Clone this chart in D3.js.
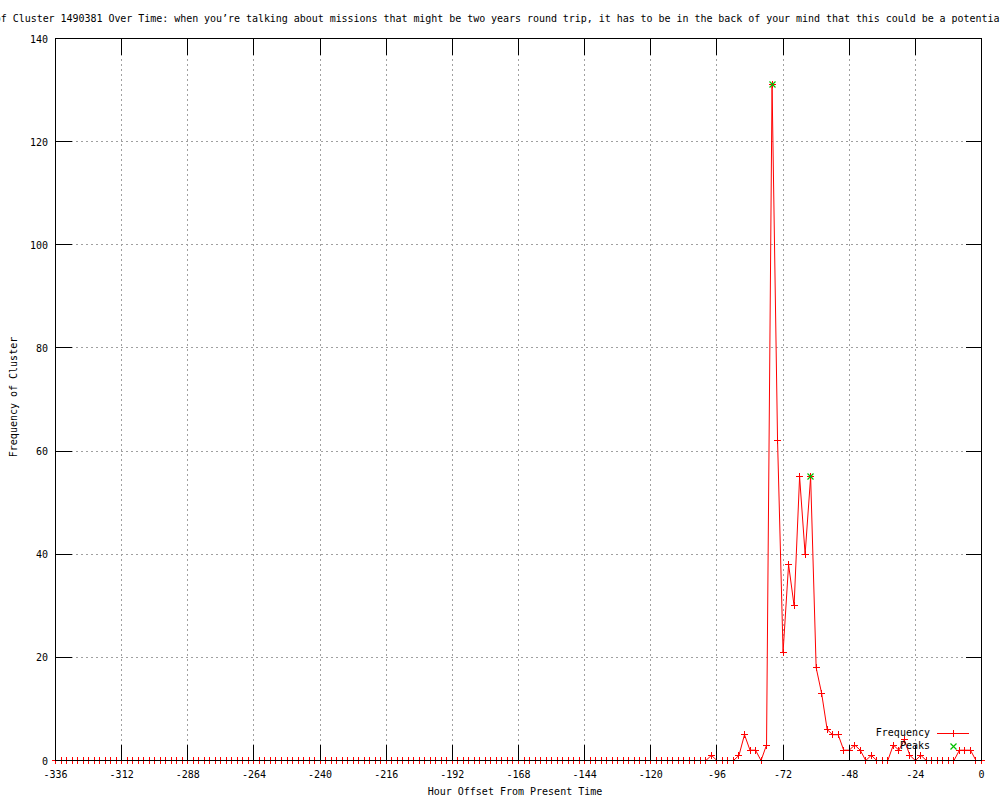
<!DOCTYPE html>
<html>
<head>
<meta charset="utf-8">
<script src="https://cdn.jsdelivr.net/npm/d3@7"></script>
<style>
body { margin: 0; background: #fff; }
svg text { font-family: "DejaVu Sans Mono", monospace; font-size: 10px; fill: #000; }
</style>
</head>
<body>
<svg width="1000" height="800"></svg>
<script>

// frequency per 2 hour bin, from -336 up to 0
const frequency = [
    0,0,0,0,0,0,0,0,0,0,0,0,0,0,0,0,0,
    0,0,0,0,0,0,0,0,0,0,0,0,0,0,0,0,0,
    0,0,0,0,0,0,0,0,0,0,0,0,0,0,0,0,0,
    0,0,0,0,0,0,0,0,0,0,0,0,0,0,0,0,0,
    0,0,0,0,0,0,0,0,0,0,0,0,0,0,0,0,0,
    0,0,0,0,0,0,0,0,0,0,0,0,0,0,0,0,0,
    0,0,0,0,0,0,0,0,0,0,0,0,0,0,0,0,0,
    1,0,0,0,0,1,5,2,2,0,
    3,131,62,21,38,30,55,40,55,18,
    13,6,5,5,2,2,3,2,0,1,
    0,0,0,3,2,4,1,0,1,0,
    0,0,0,0,0,2,2,2,0,0
]
const hours = d3.range(-336, 1, 2)

const peakHours = [-76, -62]
const peakValues = [131, 55]

const xTicks = [-336, -312, -288, -264, -240, -216, -192, -168, -144, -120, -96, -72, -48, -24, 0]
const yTicks = [0, 20, 40, 60, 80, 100, 120, 140]

const titleText = "Frequency of Cluster 1490381 Over Time: when you\u2019re talking about missions that might be two years round trip, it has to be in the back of your mind that this could be a potential"

let svg = d3.select("svg")

let pLeft = 55.5, pRight = 981.5, pTop = 38.5, pBottom = 760.5
let tickLen = 16

let x = d3.scaleLinear().domain([-336, 0]).range([pLeft, pRight])
let y = d3.scaleLinear().domain([0, 140]).range([pBottom, pTop])

let snap = (v) => Math.round(v - 0.5) + 0.5

// grid
let grid = svg.append("g")
    .attr("stroke", "#a0a0a0")
    .attr("stroke-dasharray", "2,3")
    .attr("shape-rendering", "crispEdges")

grid.selectAll(".gx")
    .data(xTicks.filter((d) => d > -336 && d < 0))
    .join("line")
    .attr("class", "gx")
    .attr("x1", (d) => snap(x(d)))
    .attr("x2", (d) => snap(x(d)))
    .attr("y1", pTop)
    .attr("y2", pBottom)

grid.selectAll(".gy")
    .data(yTicks.filter((d) => d > 0 && d < 140))
    .join("line")
    .attr("class", "gy")
    .attr("x1", pLeft)
    .attr("x2", pRight)
    .attr("y1", (d) => snap(y(d)))
    .attr("y2", (d) => snap(y(d)))

// frequency line
let pts = hours.map((h, i) => ({ h: h, v: frequency[i] }))

svg.append("path")
    .datum(pts)
    .attr("fill", "none")
    .attr("stroke", "#ff0000")
    .attr("stroke-width", 1)
    .attr("d", d3.line().x((d) => x(d.h)).y((d) => y(d.v)))

let plus = (cx, cy) => "M" + (cx - 3.5) + "," + cy + "H" + (cx + 3.5) + "M" + cx + "," + (cy - 3.5) + "V" + (cy + 3.5)
let cross = (cx, cy) => "M" + (cx - 3) + "," + (cy - 3) + "L" + (cx + 3) + "," + (cy + 3) + "M" + (cx - 3) + "," + (cy + 3) + "L" + (cx + 3) + "," + (cy - 3)

svg.append("g")
    .attr("shape-rendering", "crispEdges")
    .selectAll("path")
    .data(pts)
    .join("path")
    .attr("fill", "none")
    .attr("stroke", "#ff0000")
    .attr("d", (d) => plus(snap(x(d.h)), snap(y(d.v))))

// peaks
svg.append("g")
    .selectAll("path")
    .data(peakHours)
    .join("path")
    .attr("fill", "none")
    .attr("stroke", "#00c000")
    .attr("stroke-width", 1.2)
    .attr("d", (d, i) => cross(snap(x(d)), snap(y(peakValues[i]))))

// border and ticks
let axes = svg.append("g")
    .attr("stroke", "#000")
    .attr("shape-rendering", "crispEdges")

axes.append("rect")
    .attr("x", pLeft)
    .attr("y", pTop)
    .attr("width", pRight - pLeft)
    .attr("height", pBottom - pTop)
    .attr("fill", "none")

xTicks.forEach((t) => {
    let px = snap(x(t))
    axes.append("line").attr("x1", px).attr("x2", px).attr("y1", pBottom).attr("y2", pBottom - tickLen)
    axes.append("line").attr("x1", px).attr("x2", px).attr("y1", pTop).attr("y2", pTop + tickLen)
})
yTicks.forEach((t) => {
    let py = snap(y(t))
    axes.append("line").attr("x1", pLeft).attr("x2", pLeft + tickLen).attr("y1", py).attr("y2", py)
    axes.append("line").attr("x1", pRight).attr("x2", pRight - tickLen).attr("y1", py).attr("y2", py)
})

// tick labels
svg.append("g")
    .selectAll("text")
    .data(xTicks)
    .join("text")
    .attr("x", (d) => x(d))
    .attr("y", 778)
    .attr("text-anchor", "middle")
    .text((d) => d)

svg.append("g")
    .selectAll("text")
    .data(yTicks)
    .join("text")
    .attr("x", 48)
    .attr("y", (d) => y(d) + 4)
    .attr("text-anchor", "end")
    .text((d) => d)

// titles (the reference title runs off both edges of the picture)
svg.append("text")
    .attr("x", -65)
    .attr("y", 22)
    .attr("textLength", titleText.length * 5.98)
    .attr("lengthAdjust", "spacing")
    .text(titleText)

svg.append("text")
    .attr("x", 515)
    .attr("y", 795)
    .attr("text-anchor", "middle")
    .text("Hour Offset From Present Time")

svg.append("text")
    .attr("transform", "translate(17,397) rotate(-90)")
    .attr("text-anchor", "middle")
    .text("Frequency of Cluster")

// key
svg.append("text").attr("x", 930).attr("y", 736).attr("text-anchor", "end").text("Frequency")
svg.append("text").attr("x", 930).attr("y", 749).attr("text-anchor", "end").text("Peaks")

svg.append("line")
    .attr("x1", 937).attr("x2", 969)
    .attr("y1", 733.5).attr("y2", 733.5)
    .attr("stroke", "#ff0000")
svg.append("path").attr("fill", "none").attr("stroke", "#ff0000")
    .attr("shape-rendering", "crispEdges").attr("d", plus(953.5, 733.5))
svg.append("path").attr("fill", "none").attr("stroke", "#00c000")
    .attr("stroke-width", 1.2).attr("d", cross(953.5, 746.5))

</script>
</body>
</html>
